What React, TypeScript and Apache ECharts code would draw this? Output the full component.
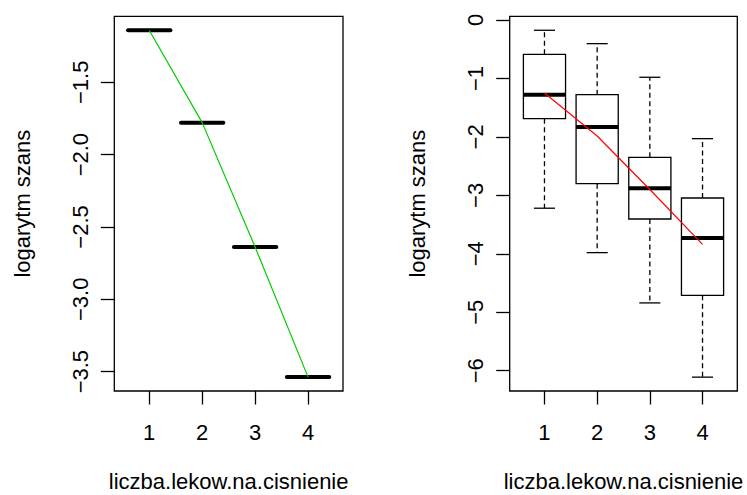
import React, { useEffect, useRef } from "react";
import * as echarts from "echarts";

// ---- data ----
const categories = [1, 2, 3, 4];
const logOdds = [-1.14, -1.779, -2.639, -3.538];
const leftYTicks = [-1.5, -2, -2.5, -3, -3.5];

const boxLow = [-3.22, -3.98, -4.84, -6.11];
const boxQ1 = [-1.688, -2.8, -3.405, -4.71];
const boxMedian = [-1.278, -1.83, -2.88, -3.73];
const boxQ3 = [-0.587, -1.278, -2.35, -3.045];
const boxHigh = [-0.176, -0.405, -0.98, -2.03];
const fittedLine = [-1.249, -1.985, -2.9, -3.84];
const rightYTicks = [0, -1, -2, -3, -4, -5, -6];

const xTitle = "liczba.lekow.na.cisnienie";
const yTitle = "logarytm szans";

const FONT = "'Liberation Sans', Arial, Helvetica, sans-serif";
const FS = 22;

const fmt = (digits: number) => (v: number) =>
  (v < 0 ? "\u2212" : "") + Math.abs(v).toFixed(digits);

export default function App() {
  const ref = useRef<HTMLDivElement>(null);
  useEffect(() => {
    if (!ref.current) return;
    const chart = echarts.init(ref.current, undefined, { renderer: "svg" });

    const textStyle = { color: "#000", fontFamily: FONT, fontSize: FS };

    const makeX = (gridIndex: number) => ({
      type: "value",
      gridIndex,
      position: "bottom",
      min: 0.34,
      max: 4.66,
      splitLine: { show: false },
      axisLine: { show: false, onZero: false },
      axisTick: {
        show: true,
        length: 13.5,
        customValues: categories,
        lineStyle: { color: "#000", width: 1.3 },
      },
      axisLabel: {
        show: true,
        customValues: categories,
        margin: 30,
        ...textStyle,
        formatter: (v: number) => String(v),
      },
      name: xTitle,
      nameLocation: "middle",
      nameGap: 79,
      nameTextStyle: textStyle,
    });

    const makeY = (gridIndex: number, min: number, max: number, ticks: number[], d: number) => ({
      type: "value",
      gridIndex,
      position: "left",
      min,
      max,
      splitLine: { show: false },
      axisLine: { show: false, onZero: false },
      axisTick: {
        show: true,
        length: 13.5,
        customValues: ticks,
        lineStyle: { color: "#000", width: 1.3 },
      },
      axisLabel: {
        show: true,
        customValues: ticks,
        rotate: 90,
        margin: 23,
        ...textStyle,
        formatter: fmt(d),
      },
      name: yTitle,
      nameLocation: "middle",
      nameGap: 81,
      nameTextStyle: textStyle,
    });

    const segData = categories.map((c, i) => [c, logOdds[i]]);
    const boxData = categories.map((c, i) => [c, boxLow[i], boxQ1[i], boxMedian[i], boxQ3[i], boxHigh[i]]);

    const gridBase = {
      top: 16.3,
      height: 374.7,
      show: true,
      borderColor: "#000",
      borderWidth: 1.3,
      backgroundColor: "transparent",
      containLabel: false,
      outerBoundsMode: "none",
    };

    chart.setOption({
      animation: false,
      backgroundColor: "#fff",
      grid: [
        { ...gridBase, left: 114.3, width: 228.7 },
        { ...gridBase, left: 509.7, width: 227.6 },
      ],
      xAxis: [makeX(0), makeX(1)],
      yAxis: [
        makeY(0, -3.634, -1.044, leftYTicks, 1),
        makeY(1, -6.347, 0.063, rightYTicks, 0),
      ],
      series: [
        {
          type: "custom",
          xAxisIndex: 0,
          yAxisIndex: 0,
          data: segData,
          encode: { x: 0, y: 1 },
          z: 2,
          renderItem: (params: any, api: any) => {
            const x = api.value(0);
            const y = api.value(1);
            const p1 = api.coord([x - 0.4, y]);
            const p2 = api.coord([x + 0.4, y]);
            return {
              type: "line",
              shape: { x1: p1[0], y1: p1[1], x2: p2[0], y2: p2[1] },
              style: { stroke: "#000", lineWidth: 4, lineCap: "round" },
            };
          },
        },
        {
          type: "line",
          xAxisIndex: 0,
          yAxisIndex: 0,
          data: segData,
          symbol: "none",
          z: 5,
          lineStyle: { color: "#00CD00", width: 1.2 },
        },
        {
          type: "custom",
          xAxisIndex: 1,
          yAxisIndex: 1,
          data: boxData,
          encode: { x: 0, y: [1, 2, 3, 4, 5] },
          z: 2,
          renderItem: (params: any, api: any) => {
            const x = api.value(0);
            const lo = api.coord([x, api.value(1)]);
            const q1 = api.coord([x, api.value(2)]);
            const med = api.coord([x, api.value(3)]);
            const q3 = api.coord([x, api.value(4)]);
            const hi = api.coord([x, api.value(5)]);
            const half = api.size([0.4, 0])[0];
            const cap = api.size([0.2, 0])[0];
            const cx = lo[0];
            const solid = { stroke: "#000", lineWidth: 1.3, fill: "none" };
            const dashed = { stroke: "#000", lineWidth: 1.3, lineDash: [5, 3.5] };
            return {
              type: "group",
              children: [
                { type: "line", shape: { x1: cx, y1: q3[1], x2: cx, y2: hi[1] }, style: dashed },
                { type: "line", shape: { x1: cx, y1: q1[1], x2: cx, y2: lo[1] }, style: dashed },
                { type: "line", shape: { x1: cx - cap, y1: hi[1], x2: cx + cap, y2: hi[1] }, style: solid },
                { type: "line", shape: { x1: cx - cap, y1: lo[1], x2: cx + cap, y2: lo[1] }, style: solid },
                { type: "rect", shape: { x: cx - half, y: q3[1], width: 2 * half, height: q1[1] - q3[1] }, style: solid },
                { type: "line", shape: { x1: cx - half, y1: med[1], x2: cx + half, y2: med[1] }, style: { stroke: "#000", lineWidth: 4 } },
              ],
            };
          },
        },
        {
          type: "line",
          xAxisIndex: 1,
          yAxisIndex: 1,
          data: categories.map((c, i) => [c, fittedLine[i]]),
          symbol: "none",
          z: 5,
          lineStyle: { color: "#FF0000", width: 1.2 },
        },
      ],
    });
    return () => chart.dispose();
  }, []);
  return (
    <div
      ref={ref}
      style={{ position: "fixed", left: 0, top: 0, width: 747, height: 495, background: "#fff" }}
    />
  );
}
